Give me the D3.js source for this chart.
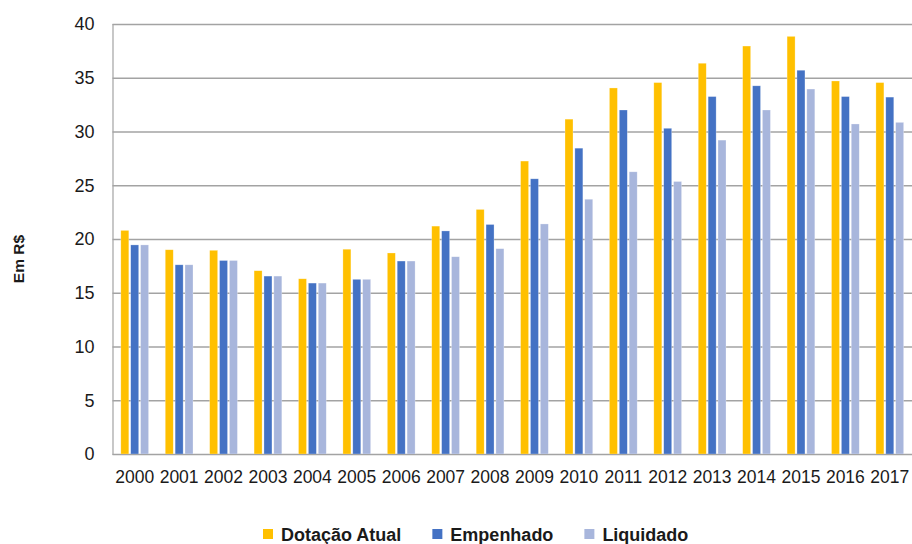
<!DOCTYPE html>
<html>
<head>
<meta charset="utf-8">
<script src="https://cdn.jsdelivr.net/npm/d3@7"></script>
<style>
  html, body { margin: 0; padding: 0; background: #fff; }
  svg { display: block; font-family: "Liberation Sans", Arial, Helvetica, sans-serif; }
</style>
</head>
<body>
<svg id="chart" width="912" height="544"></svg>
<script>
// Budget execution by year, in R$
const years = ["2000","2001","2002","2003","2004","2005","2006","2007","2008","2009",
               "2010","2011","2012","2013","2014","2015","2016","2017"];
const dotacaoAtual = [20.8, 19.0, 18.95, 17.05, 16.3, 19.05, 18.7, 21.2, 22.75, 27.25,
                      31.15, 34.05, 34.55, 36.35, 37.95, 38.85, 34.7, 34.55];
const empenhado    = [19.45, 17.6, 18.0, 16.55, 15.9, 16.25, 17.95, 20.75, 21.35, 25.6,
                      28.45, 32.0, 30.3, 33.25, 34.25, 35.7, 33.25, 33.2];
const liquidado    = [19.45, 17.6, 18.0, 16.55, 15.9, 16.25, 17.95, 18.35, 19.1, 21.4,
                      23.7, 26.25, 25.35, 29.2, 32.0, 33.95, 30.7, 30.85];
const seriesNames  = ["Dotação Atual", "Empenhado", "Liquidado"];
const seriesColors = ["#FFC000", "#4472C4", "#A8B6DC"];
const yTicks = [0, 5, 10, 15, 20, 25, 30, 35, 40];

const seriesValues = [dotacaoAtual, empenhado, liquidado];
const rows = years.map((yr, i) => ({
  year: yr,
  values: seriesNames.map((name, k) => ({ name, value: seriesValues[k][i] }))
}));

const svg = d3.select("#chart");
const plotLeft = 112.5, plotRight = 912, plotTop = 24, plotBottom = 454;

const x0 = d3.scaleBand().domain(years).range([plotLeft, plotRight])
  .paddingInner(0.375).paddingOuter(0.1875);
const x1 = d3.scaleBand().domain(seriesNames).range([0, x0.bandwidth()])
  .paddingInner(0.19);
const y = d3.scaleLinear().domain([0, 40]).range([plotBottom, plotTop]);
const color = d3.scaleOrdinal().domain(seriesNames).range(seriesColors);

// horizontal gridlines
const yAxis = d3.axisLeft(y).tickValues(yTicks).tickSize(-(plotRight - plotLeft)).tickPadding(18);
const gy = svg.append("g").attr("transform", `translate(${plotLeft},0)`).call(yAxis);
gy.select(".domain").attr("stroke", "#a3a3a3").attr("stroke-width", 1.2);
gy.selectAll(".tick line").attr("stroke", "#a3a3a3").attr("stroke-width", 1.3);
gy.selectAll(".tick text")
  .attr("font-size", 18).attr("fill", "#1a1a1a")
  .attr("font-family", "'Liberation Sans', Arial, sans-serif");

// bars
const groups = svg.append("g").selectAll("g").data(rows).join("g")
  .attr("transform", d => `translate(${x0(d.year)},0)`);
groups.selectAll("rect").data(d => d.values).join("rect")
  .attr("x", d => x1(d.name))
  .attr("width", x1.bandwidth())
  .attr("y", d => y(d.value))
  .attr("height", d => y(0) - y(d.value))
  .attr("fill", d => color(d.name))
  .attr("stroke", "#ffffff").attr("stroke-opacity", 0.45).attr("stroke-width", 0.6);

// category axis
const xAxis = d3.axisBottom(x0).tickSize(0).tickPadding(17);
const gx = svg.append("g").attr("transform", `translate(0,${plotBottom})`).call(xAxis);
gx.select(".domain").attr("stroke", "#a3a3a3").attr("stroke-width", 1.2);
gx.selectAll(".tick text")
  .attr("font-size", 17.5).attr("fill", "#1a1a1a")
  .attr("font-family", "'Liberation Sans', Arial, sans-serif");

// y-axis title
svg.append("text")
  .attr("transform", "translate(24,259) rotate(-90)")
  .attr("text-anchor", "middle")
  .attr("font-size", 15.5).attr("font-weight", "bold").attr("fill", "#1a1a1a")
  .text("Em R$");

// legend
const legend = svg.append("g").attr("transform", "translate(263,0)");
let lx = 0;
seriesNames.forEach((name) => {
  const item = legend.append("g").attr("transform", `translate(${lx},0)`);
  item.append("rect").attr("x", 0).attr("y", 529).attr("width", 10).attr("height", 10)
    .attr("fill", color(name));
  const t = item.append("text").attr("x", 18).attr("y", 541)
    .attr("font-size", 18).attr("font-weight", "bold").attr("fill", "#1a1a1a")
    .text(name);
  lx += 18 + t.node().getComputedTextLength() + 31;
});
</script>
</body>
</html>
